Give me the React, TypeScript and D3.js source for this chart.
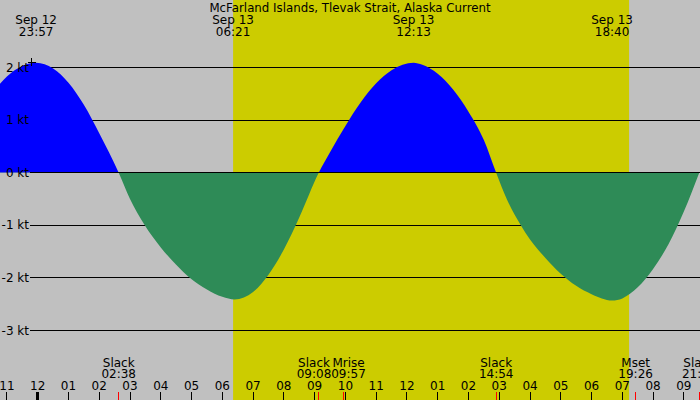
import * as d3 from 'd3';

const TITLE = 'McFarland Islands, Tlevak Strait, Alaska Current';

// hours after Sep 13 00:00, current speed in knots (flood +, ebb -)
const curveHours = [
  -1.225, -1, -0.5, -0.05, 0.5, 1, 1.5, 2, 2.633,
  3, 3.46, 4, 4.5, 4.95, 5.5, 6, 6.4, 7, 7.5, 8, 8.5, 9.133,
  9.5, 10, 10.5, 11, 11.5, 12.217, 12.5, 13, 13.5, 14, 14.5, 14.9,
  15.25, 15.7, 16, 16.5, 17, 17.5, 18, 18.667, 19, 19.5, 20, 20.5, 21, 21.5,
];
const curveKnots = [
  1.69, 1.83, 2.03, 2.09, 1.98, 1.71, 1.29, 0.75, 0,
  -0.5, -0.98, -1.42, -1.75, -2.0, -2.22, -2.36, -2.41, -2.27, -1.94, -1.46, -0.85, 0,
  0.39, 0.89, 1.34, 1.7, 1.95, 2.09, 2.05, 1.88, 1.58, 1.16, 0.62, 0,
  -0.51, -1.0, -1.27, -1.62, -1.92, -2.15, -2.31, -2.43, -2.39, -2.18, -1.83, -1.36, -0.74, 0,
];

const speedTicks = [2, 1, 0, -1, -2, -3];

// max flood / max ebb labels along the top
const extremeDates = ['Sep 12', 'Sep 13', 'Sep 13', 'Sep 13'];
const extremeTimes = ['23:57', '06:21', '12:13', '18:40'];
const extremeHours = [-0.05, 6.35, 12.217, 18.667];

// slack water and moon events along the bottom
const eventNames = ['Slack', 'Slack', 'Mrise', 'Slack', 'Mset', 'Slack'];
const eventTimes = ['02:38', '09:08', '09:57', '14:54', '19:26', '21:30'];
const eventHours = [2.633, 9.133, 9.95, 14.9, 19.433, 21.5];

const daylight = [6.35, 19.22];
const markerHour = -0.19;
const markerKnots = 2.1;

const W = 700;
const H = 400;
const PX_PER_HOUR = 30.77;
const T0 = -1.2252;

const GRAY = '#c0c0c0';
const DAY = '#cccc00';
const FLOOD = '#0000ff';
const EBB = '#2e8b57';
const FONT = 'DejaVu Sans';

function hourLabel(h: number) {
  const hh = ((h % 24) + 24) % 24;
  const h12 = hh % 12 === 0 ? 12 : hh % 12;
  return String(h12).padStart(2, '0');
}

export default function App() {
  const x = d3.scaleLinear().domain([T0, T0 + W / PX_PER_HOUR]).range([0, W]);
  const y = d3.scaleLinear().domain([-3, 2]).range([330.5, 67.5]);
  const y0 = y(0);

  const points: [number, number][] = curveHours.map((t, i) => [t, curveKnots[i]]);
  const area = d3
    .area<[number, number]>()
    .x((d) => x(d[0]))
    .y0(y0)
    .y1((d) => y(d[1]))
    .curve(d3.curveMonotoneX);
  const areaPath = area(points) ?? undefined;

  const hours = d3.range(Math.ceil(T0), Math.floor(x.invert(W)) + 1);

  // push overlapping event labels apart
  const minGap = 34.5;
  const eventX = eventHours.map((t) => x(t));
  for (let i = 1; i < eventX.length; i++) {
    const d = eventX[i] - eventX[i - 1];
    if (d < minGap) {
      const s = (minGap - d) / 2;
      eventX[i - 1] -= s;
      eventX[i] += s;
    }
  }

  return (
    <svg
      width={W}
      height={H}
      viewBox={`0 0 ${W} ${H}`}
      style={{ position: 'absolute', left: 0, top: 0 }}
      fontFamily={FONT}
      fontSize={12}
    >
      <defs>
        <clipPath id="above">
          <rect x={0} y={0} width={W} height={y0} />
        </clipPath>
        <clipPath id="below">
          <rect x={0} y={y0} width={W} height={H - y0} />
        </clipPath>
      </defs>
      <rect x={0} y={0} width={W} height={H} fill={GRAY} />
      <rect x={x(daylight[0])} y={0} width={x(daylight[1]) - x(daylight[0])} height={H} fill={DAY} />

      {speedTicks
        .filter((v) => v !== 0)
        .map((v) => (
          <line key={v} x1={29.5} x2={W} y1={y(v)} y2={y(v)} stroke="#000" strokeWidth={1} shapeRendering="crispEdges" />
        ))}

      <path d={areaPath} fill={FLOOD} clipPath="url(#above)" />
      <path d={areaPath} fill={EBB} clipPath="url(#below)" />

      <line x1={29.5} x2={W} y1={y0} y2={y0} stroke="#000" strokeWidth={1} shapeRendering="crispEdges" />

      {speedTicks.map((v) => (
        <text key={v} x={29} y={y(v) + 4} textAnchor="end" fill="#000">
          {`${v} kt`}
        </text>
      ))}

      <g stroke="#000" strokeWidth={1} shapeRendering="crispEdges">
        <line x1={x(markerHour) - 4} x2={x(markerHour) + 4} y1={y(markerKnots)} y2={y(markerKnots)} />
        <line x1={x(markerHour)} x2={x(markerHour)} y1={y(markerKnots) - 4} y2={y(markerKnots) + 4} />
      </g>

      <text x={W / 2} y={12} textAnchor="middle" fill="#000" fontSize={11.8}>
        {TITLE}
      </text>
      {extremeHours.map((t, i) => (
        <text key={i} x={x(t)} textAnchor="middle" fill="#000">
          <tspan x={x(t)} y={24}>{extremeDates[i]}</tspan>
          <tspan x={x(t)} y={36}>{extremeTimes[i]}</tspan>
        </text>
      ))}

      {hours.map((h) => (
        <g key={h}>
          <line
            x1={x(h)}
            x2={x(h)}
            y1={392}
            y2={H}
            stroke="#000"
            strokeWidth={h % 24 === 0 ? 3 : 1}
            shapeRendering="crispEdges"
          />
          <text x={x(h)} y={390} textAnchor="middle" fill="#000">
            {hourLabel(h)}
          </text>
        </g>
      ))}

      {eventHours.map((t, i) => (
        <g key={i}>
          <line x1={x(t)} x2={x(t)} y1={392} y2={H} stroke="#ff0000" strokeWidth={1} shapeRendering="crispEdges" />
          <text textAnchor="middle" fill="#000">
            <tspan x={eventX[i]} y={367}>{eventNames[i]}</tspan>
            <tspan x={eventX[i]} y={378}>{eventTimes[i]}</tspan>
          </text>
        </g>
      ))}
    </svg>
  );
}
